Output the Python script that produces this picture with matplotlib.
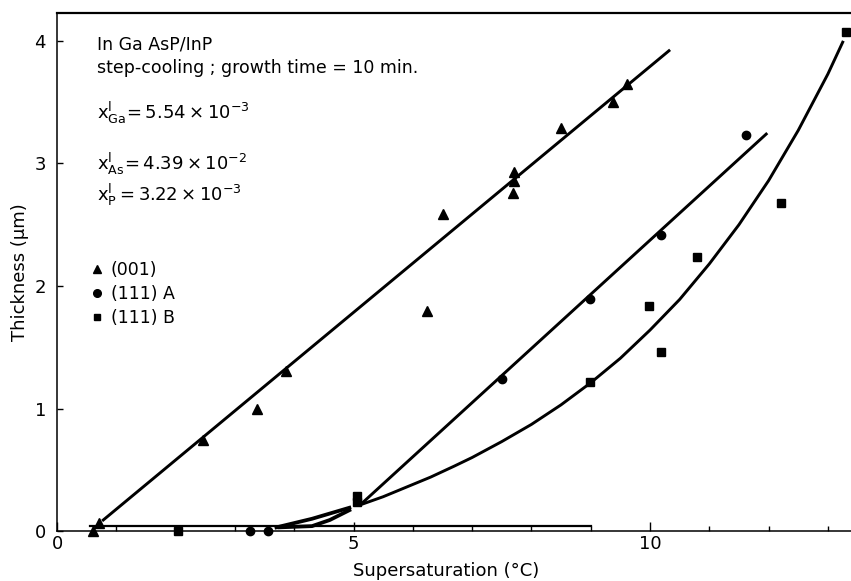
#!/usr/bin/env python3
# Thickness vs supersaturation for InGaAsP/InP layers, step-cooling growth.
import matplotlib
matplotlib.use('Agg')
import matplotlib.pyplot as plt
from matplotlib.lines import Line2D
from matplotlib.ticker import MultipleLocator

plt.rcParams['font.family'] = ['DejaVu Sans']
plt.rcParams['mathtext.fontset'] = 'dejavusans'

tri_x = [0.61, 0.71, 2.46, 3.37, 3.86, 6.24, 6.51, 7.71, 7.71, 7.69, 8.50, 9.38, 9.61]
tri_y = [0.00, 0.065, 0.74, 1.00, 1.31, 1.80, 2.59, 2.93, 2.86, 2.76, 3.29, 3.50, 3.65]

circ_x = [3.25, 3.56, 7.50, 8.99, 10.19, 11.62]
circ_y = [0.00, 0.00, 1.24, 1.89, 2.42, 3.23]

sq_x = [2.04, 5.06, 5.06, 8.99, 9.98, 10.19, 10.79, 12.21, 13.30]
sq_y = [0.00, 0.29, 0.24, 1.22, 1.84, 1.46, 2.24, 2.68, 4.07]

# hand-drawn guide lines
line001_x = [0.78, 10.32]
line001_y = [0.09, 3.92]

lineA_x = [5.15, 11.96]
lineA_y = [0.23, 3.24]
lineA_low_x = [3.70, 4.30, 4.93]
lineA_low_y = [0.03, 0.10, 0.19]

curveB_x = [5.15, 5.50, 5.80, 6.30, 6.70, 7.00, 7.50, 8.00, 8.50, 9.00, 9.50, 10.00,
            10.50, 11.00, 11.50, 12.00, 12.50, 13.00, 13.25]
curveB_y = [0.22, 0.28, 0.34, 0.44, 0.53, 0.60, 0.73, 0.87, 1.03, 1.21, 1.41, 1.64,
            1.89, 2.18, 2.50, 2.86, 3.27, 3.73, 3.99]
curveB_low_x = [3.75, 4.30, 4.60, 4.93]
curveB_low_y = [0.03, 0.04, 0.09, 0.17]

base_x = [0.56, 9.00]
base_y = [0.043, 0.043]

legend_labels = ['(001)', '(111) A', '(111) B']


def main():
    fig = plt.figure(figsize=(8.51, 5.81), dpi=100)
    ax = fig.add_axes([0.067, 0.086, 0.933, 0.892])

    lw = 2.1
    ax.plot(base_x, base_y, color='black', lw=1.6)
    ax.plot(line001_x, line001_y, color='black', lw=lw)
    ax.plot(lineA_x, lineA_y, color='black', lw=lw)
    ax.plot(lineA_low_x, lineA_low_y, color='black', lw=lw + 0.6)
    ax.plot(curveB_x, curveB_y, color='black', lw=lw)
    ax.plot(curveB_low_x, curveB_low_y, color='black', lw=lw + 0.6)

    ax.plot(tri_x, tri_y, '^', color='black', ms=6.5, clip_on=False)
    ax.plot(circ_x, circ_y, 'o', color='black', ms=6, clip_on=False)
    ax.plot(sq_x, sq_y, 's', color='black', ms=5.5, clip_on=False)

    ax.set_xlim(0, 13.39)
    ax.set_ylim(0, 4.23)
    ax.set_xticks([0, 5, 10])
    ax.xaxis.set_minor_locator(MultipleLocator(1))
    ax.set_yticks([0, 1, 2, 3, 4])
    ax.tick_params(axis='x', which='major', direction='in', length=6.5, width=1, labelsize=13, pad=3)
    ax.tick_params(axis='x', which='minor', direction='in', length=3.5, width=1)
    ax.tick_params(axis='y', which='major', direction='in', length=4.5, width=1, labelsize=13, pad=8)
    ax.spines['right'].set_visible(False)
    for s in ['left', 'bottom']:
        ax.spines[s].set_linewidth(1.1)
    ax.spines['top'].set_linewidth(1.6)

    ax.set_xlabel('Supersaturation (°C)', fontsize=13, labelpad=0)
    ax.xaxis.set_label_coords(0.49, -0.06)
    ax.set_ylabel('Thickness (μm)', fontsize=13, labelpad=4)

    ax.text(0.67, 3.97, 'In Ga AsP/InP', fontsize=12.5, va='center')
    ax.text(0.67, 3.78, 'step-cooling ; growth time = 10 min.', fontsize=12.5, va='center')
    ax.text(0.67, 3.41, r'$\mathrm{x}_{\mathrm{Ga}}^{\mathrm{l}}\!= 5.54\times10^{-3}$', fontsize=13, va='center')
    ax.text(0.67, 3.00, r'$\mathrm{x}_{\mathrm{As}}^{\mathrm{l}}\!= 4.39\times10^{-2}$', fontsize=13, va='center')
    ax.text(0.67, 2.74, r'$\mathrm{x}_{\mathrm{P}}^{\mathrm{l}}= 3.22\times10^{-3}$', fontsize=13, va='center')

    handles = [Line2D([], [], marker='^', ls='none', color='black', ms=5.5),
               Line2D([], [], marker='o', ls='none', color='black', ms=5.5),
               Line2D([], [], marker='s', ls='none', color='black', ms=5)]
    ax.legend(handles, legend_labels, loc='upper left', bbox_to_anchor=(0.035, 0.535),
              frameon=False, fontsize=12.5, handlelength=0.6, handletextpad=0.5,
              labelspacing=0.35, borderaxespad=0)

    fig.savefig('out.png', dpi=100)


if __name__ == "__main__":
    main()
